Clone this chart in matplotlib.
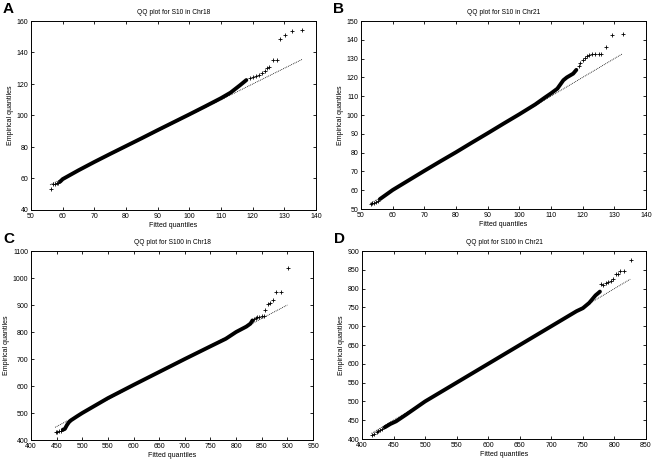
import matplotlib
matplotlib.use("Agg")
import matplotlib.pyplot as plt
import numpy as np

plt.rcParams['font.family'] = ['Liberation Sans', 'DejaVu Sans']

# ---- data (fitted vs empirical quantiles) ----
# Panel A: S10 in Chr18
a_body_x = [59.2, 60, 65, 70, 75, 80, 85, 90, 95, 100, 105, 110, 113, 116, 118]
a_body_y = [58.0, 59.6, 65.2, 70.5, 75.6, 80.6, 85.6, 90.7, 95.7, 100.7, 105.8, 111.0, 114.5, 119.2, 122.5]
a_tail_x = [56.2, 57.0, 57.6, 58.1, 58.6, 119, 120, 121, 122, 123, 123.9, 124.6, 125.3,
            126.5, 127.6, 128.6, 130.2, 132.3, 135.7]
a_tail_y = [53.1, 56.5, 56.6, 56.9, 57.3, 123.5, 124.3, 125.0, 125.8, 126.7, 128.3, 130.0, 131.0,
            135.1, 135.1, 148.8, 150.9, 153.4, 154.0]
a_fit = [56.0, 135.7]

# Panel B: S10 in Chr21
b_body_x = [56, 60, 65, 70, 75, 80, 85, 90, 95, 100, 105, 108, 110, 112, 113.9, 115, 116, 117, 118]
b_body_y = [55.3, 60.1, 65.2, 70.3, 75.3, 80.2, 85.3, 90.3, 95.4, 100.4, 105.6, 109.2, 111.5, 114.0,
            118.5, 120.0, 121.0, 122.0, 124.0]
b_tail_x = [53.0, 53.6, 54.2, 54.8, 55.4, 118.8, 119.3, 120, 120.6, 121.3, 122, 123, 124, 125,
            125.7, 127.4, 129.2, 132.6]
b_tail_y = [52.6, 53.0, 53.4, 53.8, 54.4, 126.0, 127.5, 129.0, 130.5, 131.6, 132.1, 132.3, 132.4, 132.5,
            132.7, 136.0, 142.4, 143.3]
b_fit = [53.0, 132.6]

# Panel C: S100 in Chr18
c_body_x = [462, 466, 470, 474, 478, 490, 500, 550, 600, 650, 700, 750, 780, 800, 820, 828, 832]
c_body_y = [438, 441, 455, 466, 473, 488, 500, 555, 604, 652, 700, 747, 775, 800, 820, 831, 843]
c_tail_x = [448, 451, 455, 458, 835, 838, 841, 845, 850, 854, 857, 862, 867, 872, 877, 887, 900.6]
c_tail_y = [430, 431, 433, 435, 848, 852, 854, 856, 858, 861, 880, 905, 908, 918, 947, 947, 1038]
c_fit = [447, 900]

# Panel D: S100 in Chr21
d_body_x = [436, 445, 454, 470, 500, 550, 600, 650, 700, 740, 750, 755, 760, 765, 770, 775, 777]
d_body_y = [431, 440, 447, 465, 500, 550, 600, 650, 700, 740, 748, 755, 762, 772, 782, 789, 792]
d_tail_x = [416, 419, 423, 426, 429, 432, 779, 782, 786, 790, 794, 798, 802, 806, 809, 815, 827]
d_tail_y = [410, 414, 418, 421, 424, 427, 812, 809, 815, 818, 820, 826, 838, 840, 846, 847, 877]
d_fit = [415, 825]

panels = [
    ("A", "QQ plot for S10 in Chr18", a_body_x, a_body_y, a_tail_x, a_tail_y, a_fit,
     (50, 140), np.arange(50, 141, 10), (40, 160), np.arange(40, 161, 20), (31, 316, 21, 210)),
    ("B", "QQ plot for S10 in Chr21", b_body_x, b_body_y, b_tail_x, b_tail_y, b_fit,
     (50, 140), np.arange(50, 141, 10), (50, 150), np.arange(50, 151, 10), (361, 646, 21, 209)),
    ("C", "QQ plot for S100 in Chr18", c_body_x, c_body_y, c_tail_x, c_tail_y, c_fit,
     (400, 950), np.arange(400, 951, 50), (400, 1100), np.arange(400, 1101, 100), (31, 313, 251, 440)),
    ("D", "QQ plot for S100 in Chr21", d_body_x, d_body_y, d_tail_x, d_tail_y, d_fit,
     (400, 850), np.arange(400, 851, 50), (400, 900), np.arange(400, 901, 50), (362, 646, 251, 439)),
]

W, H = 655, 461
fig = plt.figure(figsize=(W / 100, H / 100), dpi=100)

for letter, title, bx, by, tx, ty, fit, xlim, xt, ylim, yt, box in panels:
    l, r, t, b = box
    ax = fig.add_axes([l / W, (H - b) / H, (r - l) / W, (b - t) / H])
    # fitted reference line (y = x)
    ax.plot(fit, fit, color='black', lw=0.6, linestyle=(0, (1, 1.2)))
    # dense body of points
    ax.plot(bx, by, color='black', lw=2.8, solid_capstyle='round')
    # sparse tail points
    ax.plot(tx, ty, linestyle='none', marker='+', color='black', markersize=3.2, mew=0.6)
    ax.set_xlim(*xlim)
    ax.set_ylim(*ylim)
    ax.set_xticks(xt)
    ax.set_yticks(yt)
    ax.tick_params(direction='in', top=True, right=True, length=2.5, width=0.6,
                   labelsize=5, pad=2)
    for s in ax.spines.values():
        s.set_linewidth(0.7)
    ax.set_title(title, fontsize=4.8, pad=5)
    ax.set_xlabel("Fitted quantiles", fontsize=5, labelpad=1.5)
    ax.set_ylabel("Empirical quantiles", fontsize=5, labelpad=2)
    fig.text((l - 28) / W, 1 - (t - 19) / H, letter, fontsize=11, fontweight='bold',
             ha='left', va='top')

fig.savefig("out.png", dpi=100)
